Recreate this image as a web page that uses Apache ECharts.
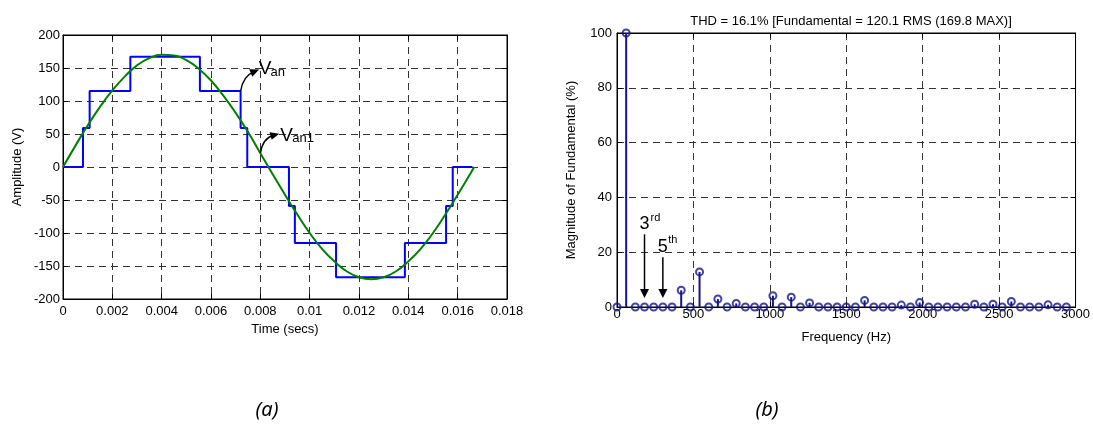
<!DOCTYPE html>
<html><head><meta charset="utf-8">
<script src="https://cdn.jsdelivr.net/npm/echarts@6/dist/echarts.min.js"></script>
<style>html,body{margin:0;padding:0;background:#fff}#c{width:1093px;height:424px}</style>
</head><body><div id="c"></div>
<script>
// ---- data ----
const stepTimes  = [0, 0.00081, 0.00108, 0.00273, 0.00555, 0.0072, 0.00747, 0.00916, 0.0094, 0.01107, 0.01386, 0.01553, 0.0158, 0.0166];
const stepLevels = [0, 59, 115, 167, 115, 59, 0, -59, -115, -167, -115, -59, 0, 0];
const sineTimes  = [0, 0.0005, 0.001, 0.0015, 0.002, 0.0025, 0.003, 0.0035, 0.004, 0.0045, 0.005, 0.0055, 0.006, 0.0065, 0.007, 0.0075, 0.008, 0.0085, 0.009, 0.0095, 0.01, 0.0105, 0.011, 0.0115, 0.012, 0.0125, 0.013, 0.0135, 0.014, 0.0145, 0.015, 0.0155, 0.016, 0.0165, 0.01667];
const sineValues = [0, 32, 63, 91, 116, 137, 154, 165, 170, 169, 162, 149, 131, 108, 82, 53, 21, -11, -42, -72, -100, -124, -143, -158, -167, -170, -167, -158, -143, -124, -100, -72, -42, -11, 0];
const harmonicFreqs = [0, 60, 120, 180, 240, 300, 360, 420, 480, 540, 600, 660, 720, 780, 840, 900, 960, 1020, 1080, 1140, 1200, 1260, 1320, 1380, 1440, 1500, 1560, 1620, 1680, 1740, 1800, 1860, 1920, 1980, 2040, 2100, 2160, 2220, 2280, 2340, 2400, 2460, 2520, 2580, 2640, 2700, 2760, 2820, 2880, 2940];
const harmonicMags  = [0, 100, 0, 0, 0, 0, 0, 6.1, 0, 12.8, 0, 2.9, 0, 1.3, 0, 0, 0, 4.1, 0, 3.6, 0, 1.5, 0, 0, 0, 0, 0, 2.4, 0, 0, 0, 0.7, 0, 1.6, 0, 0, 0, 0, 0, 1.0, 0, 1.0, 0, 2.0, 0, 0, 0, 0.8, 0, 0];
const timeTicks = ['0', '0.002', '0.004', '0.006', '0.008', '0.01', '0.012', '0.014', '0.016', '0.018'];
const ampTicks  = ['-200', '-150', '-100', '-50', '0', '50', '100', '150', '200'];
const freqTicks = ['0', '500', '1000', '1500', '2000', '2500', '3000'];
const magTicks  = ['0', '20', '40', '60', '80', '100'];

const FONT = '"Liberation Sans", Arial, sans-serif';
const TXT = {color: '#000', fontSize: 13, fontFamily: FONT};
const GRIDLINE = {show: true, lineStyle: {type: [7, 5], color: '#333', width: 1}};

function mainAxis(gi, min, max, interval, labels, pos, margin, name, gap) {
  return {
    gridIndex: gi, type: 'value', min, max, interval, position: pos,
    axisLine: {show: true, onZero: false, lineStyle: {color: '#000', width: 1}},
    axisTick: {show: true, inside: true, length: 5, lineStyle: {color: '#000'}},
    axisLabel: Object.assign({margin, formatter: v => labels[Math.round((v - min) / interval)]}, TXT),
    splitLine: GRIDLINE,
    name, nameLocation: 'middle', nameGap: gap, nameTextStyle: TXT
  };
}
function sideAxis(gi, min, max, interval, pos) {
  return {
    gridIndex: gi, type: 'value', min, max, interval, position: pos,
    axisLine: {show: true, onZero: false, lineStyle: {color: '#000', width: 1}},
    axisTick: {show: true, inside: true, length: 5, lineStyle: {color: '#000'}},
    axisLabel: {show: false}, splitLine: {show: false}
  };
}

const STEM = '#14148c';
const chart = echarts.init(document.getElementById('c'));
chart.setOption({
  animation: false,
  backgroundColor: '#fff',
  title: {text: 'THD = 16.1% [Fundamental = 120.1 RMS (169.8 MAX)]', left: 846, top: 10, textAlign: 'center',
          textStyle: {color: '#000', fontSize: 13, fontWeight: 'normal', fontFamily: FONT}},
  grid: [
    {left: 63, top: 35, width: 444, height: 264, show: true, borderColor: '#000', borderWidth: 1},
    {left: 617, top: 33, width: 459, height: 274, show: true, borderColor: '#000', borderWidth: 1}
  ],
  xAxis: [
    mainAxis(0, 0, 0.018, 0.002, timeTicks, 'bottom', 6, 'Time (secs)', 24),
    sideAxis(0, 0, 0.018, 0.002, 'top'),
    mainAxis(1, 0, 3000, 500, freqTicks, 'bottom', 1, 'Frequency (Hz)', 24),
    sideAxis(1, 0, 3000, 500, 'top')
  ],
  yAxis: [
    mainAxis(0, -200, 200, 50, ampTicks, 'left', 3, 'Amplitude (V)', 39),
    sideAxis(0, -200, 200, 50, 'right'),
    mainAxis(1, 0, 100, 20, magTicks, 'left', 5, 'Magnitude of Fundamental (%)', 39),
    sideAxis(1, 0, 100, 20, 'right')
  ],
  series: [
    {type: 'line', name: 'Van', xAxisIndex: 0, yAxisIndex: 0, step: 'end', symbol: 'none',
     lineStyle: {color: '#0000ff', width: 2}, data: stepTimes.map((t, i) => [t, stepLevels[i]]), z: 3},
    {type: 'line', name: 'Van1', xAxisIndex: 0, yAxisIndex: 0, smooth: true, symbol: 'none',
     lineStyle: {color: '#008000', width: 2}, data: sineTimes.map((t, i) => [t, sineValues[i]]), z: 4},
    {type: 'custom', xAxisIndex: 2, yAxisIndex: 2, encode: {x: 0, y: 1},
     data: harmonicFreqs.map((f, i) => [f, harmonicMags[i]]),
     renderItem: (params, api) => {
       const f = api.value(0), m = api.value(1);
       const p0 = api.coord([f, 0]), p1 = api.coord([f, m]);
       return {type: 'line', shape: {x1: p0[0], y1: p0[1], x2: p1[0], y2: p1[1]},
               style: {stroke: STEM, lineWidth: 2}};
     }, z: 3},
    {type: 'scatter', xAxisIndex: 2, yAxisIndex: 2, clip: false, symbol: 'circle', symbolSize: 7,
     itemStyle: {color: 'rgba(0,0,0,0)', borderColor: STEM, borderWidth: 2},
     data: harmonicFreqs.map((f, i) => [f, harmonicMags[i]]), z: 4}
  ]
});

// ---- annotations anchored to data coordinates ----
function px(si, pt) { return chart.convertToPixel({seriesIndex: si}, pt); }
function head(tip, dir, len, hw) {
  const L = Math.hypot(dir[0], dir[1]), ux = dir[0] / L, uy = dir[1] / L;
  const bx = tip[0] - ux * len, by = tip[1] - uy * len;
  return {type: 'polygon', shape: {points: [[tip[0], tip[1]], [bx - uy * hw, by + ux * hw], [bx + uy * hw, by - ux * hw]]},
          style: {fill: '#000'}, z: 10};
}
function txt(x, y, s, size, align) {
  return {type: 'text', x, y, z: 10, style: {text: s, fill: '#000', fontSize: size, fontFamily: FONT,
          align: align || 'center', verticalAlign: 'middle'}};
}
const g = [];
function curved(a, c, e, V, sub, vOff, sOff) {
  const dir = [e[0] - c[0], e[1] - c[1]];
  const L = Math.hypot(dir[0], dir[1]);
  const shaftEnd = [e[0] - dir[0] / L * 6, e[1] - dir[1] / L * 6];
  g.push({type: 'bezierCurve', z: 10, shape: {x1: a[0], y1: a[1], cpx1: c[0], cpy1: c[1], x2: shaftEnd[0], y2: shaftEnd[1]},
          style: {stroke: '#000', lineWidth: 1.5, fill: null}});
  g.push(head(e, dir, 9, 4));
  g.push(txt(a[0] + vOff[0], a[1] + vOff[1], V, 19, 'center'));
  g.push(txt(a[0] + sOff[0], a[1] + sOff[1], sub, 13, 'left'));
}
const a1 = px(0, [0.0072, 115]);
curved(a1, [a1[0] + 2.5, a1[1] - 15], [a1[0] + 18.5, a1[1] - 21.5], 'V', 'an', [24.5, -22], [30, -19]);
const a2 = px(1, [0.008, 21]);
curved(a2, [a2[0] + 2.5, a2[1] - 15], [a2[0] + 19, a2[1] - 19.5], 'V', 'an1', [26.2, -17.8], [32, -14.5]);

function down(f, fromV, toV, big, sup, supOff) {
  const s = px(2, [f, fromV]), t = px(2, [f, toV]);
  g.push({type: 'line', z: 10, shape: {x1: s[0], y1: s[1], x2: t[0], y2: t[1] - 7}, style: {stroke: '#000', lineWidth: 1.5}});
  g.push(head(t, [0, 1], 9, 4.5));
  g.push(txt(s[0], s[1] - 10.5, big, 18, 'center'));
  g.push(txt(s[0] + supOff[0], s[1] + supOff[1], sup, 11, 'center'));
}
down(180, 26.5, 3.3, '3', 'rd', [11, -16]);
down(300, 18.2, 3.3, '5', 'th', [10, -17]);

g.push({type: 'text', x: 267, y: 410, style: {text: '(a)', fill: '#000', fontSize: 20, fontStyle: 'italic',
        fontFamily: '"Noto Sans", sans-serif', align: 'center', verticalAlign: 'middle'}});
g.push({type: 'text', x: 767, y: 410, style: {text: '(b)', fill: '#000', fontSize: 20, fontStyle: 'italic',
        fontFamily: '"Noto Sans", sans-serif', align: 'center', verticalAlign: 'middle'}});
chart.setOption({graphic: g});
</script></body></html>
